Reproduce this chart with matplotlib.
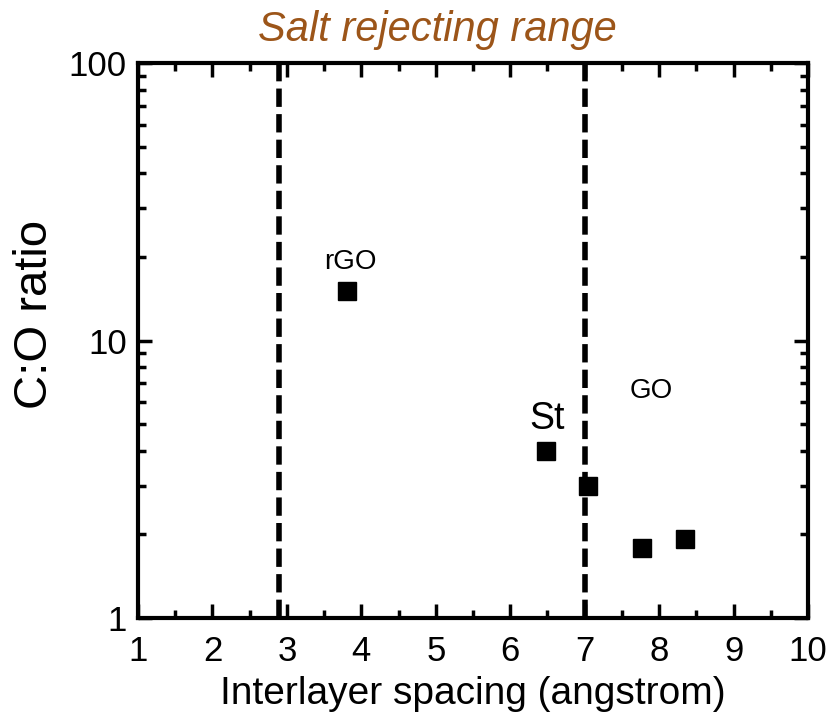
import matplotlib
matplotlib.use('Agg')
from matplotlib import pyplot as plt
from matplotlib.ticker import MultipleLocator, NullFormatter

plt.rcParams['font.family'] = ['Liberation Sans', 'DejaVu Sans']

spacing = [3.81, 6.48, 7.04, 7.77, 8.35]
co_ratio = [15.1, 4.0, 3.0, 1.79, 1.93]
bounds = [2.9, 7.0]
labels = ['rGO', 'St', 'GO']
label_x = [3.85, 6.5, 7.9]
label_y = [19.2, 5.2, 6.6]
label_size = [20, 27, 20]

fig = plt.figure(figsize=(8.32, 7.14), dpi=100)
ax = fig.add_axes([138/832, 1-618/714, 670/832, 555/714])

ax.plot(spacing, co_ratio, 's', color='black', markersize=13, zorder=3)
for b in bounds:
    ax.axvline(b, color='black', linestyle=(0, (3.3, 1.3)), linewidth=4)
for t, x, y, s in zip(labels, label_x, label_y, label_size):
    ax.text(x, y, t, fontsize=s, ha='center', va='center')

ax.set_xlim(1, 10)
ax.set_yscale('log')
ax.set_ylim(1, 100)
ax.xaxis.set_major_locator(MultipleLocator(1))
ax.xaxis.set_minor_locator(MultipleLocator(0.5))
ax.set_yticks([1, 10, 100])
ax.set_yticklabels(['1', '10', '100'])
ax.yaxis.set_minor_formatter(NullFormatter())
ax.tick_params(which='both', direction='in', top=True, right=True, width=2.5, labelsize=25, pad=8)
ax.tick_params(axis='x', which='major', pad=12)
ax.tick_params(which='major', length=10)
ax.tick_params(which='minor', length=6)
for sp in ax.spines.values():
    sp.set_linewidth(3)

ax.set_xlabel('Interlayer spacing (angstrom)', fontsize=28, labelpad=6)
fig.text(35/832, 1-314/714, 'C:O ratio', fontsize=34, rotation=90,
         ha='center', va='center')
fig.text(437/832, 1-30/714, 'Salt rejecting range', fontsize=30, style='italic',
         color='#9C5519', ha='center', va='center')

fig.savefig('out.png', dpi=100)
